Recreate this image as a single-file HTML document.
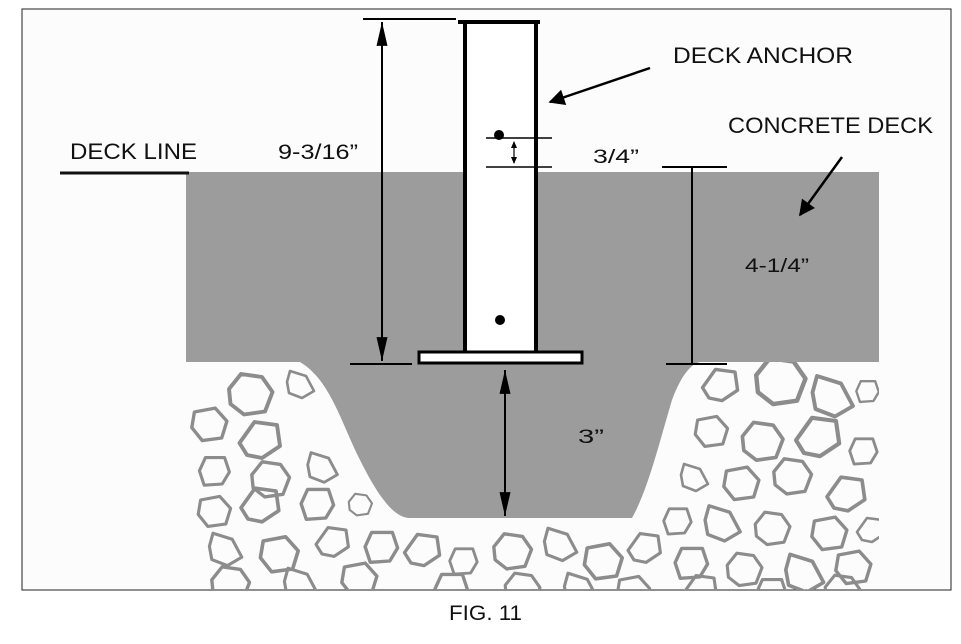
<!DOCTYPE html>
<html><head><meta charset="utf-8"><style>
html,body{margin:0;padding:0;background:#fff;width:961px;height:644px;overflow:hidden}
svg{display:block}
text{font-family:"Liberation Sans",sans-serif;fill:#111}
</style></head><body>
<svg width="961" height="644" viewBox="0 0 961 644" xmlns="http://www.w3.org/2000/svg">
<defs>
<polygon id="A" points="-14,-4 -6,-14 8,-12 15,-2 10,11 -4,13 -13,6"/>
<polygon id="B" points="-12,-10 4,-13 13,-3 9,10 -6,12 -14,2"/>
<polygon id="C" points="-10,-14 6,-9 14,6 2,13 -11,8 -13,-3"/>
<polygon id="D" points="-15,2 -5,-12 10,-10 12,4 0,12 -10,10"/>
<polygon id="E" points="-8,-12 8,-12 12,0 6,10 -9,11 -13,-1"/>
<clipPath id="g"><rect x="187" y="362" width="692" height="228"/></clipPath>
<marker id="dn" viewBox="0 0 12 26" refX="6" refY="26" markerWidth="11" markerHeight="26" markerUnits="userSpaceOnUse"><path d="M0,0 L12,0 L6,26 z" fill="#000"/></marker>
<marker id="up" viewBox="0 0 12 26" refX="6" refY="0" markerWidth="11" markerHeight="26" markerUnits="userSpaceOnUse"><path d="M0,26 L12,26 L6,0 z" fill="#000"/></marker>
<marker id="pt" viewBox="0 0 10 10" refX="9" refY="5" markerWidth="26" markerHeight="16" markerUnits="userSpaceOnUse" orient="auto"><path d="M0,0 L10,5 L0,10 z" fill="#000"/></marker>
</defs>
<rect x="22" y="9" width="929" height="581" fill="#fcfcfc" stroke="#222" stroke-width="1"/>
<rect x="186" y="172" width="693" height="190" fill="#9c9c9c"/>
<g clip-path="url(#g)" fill="none" stroke="#8c8c8c" stroke-width="2.6" stroke-linejoin="round">
<use href="#A" transform="translate(250,395) scale(1.5)"/>
<use href="#C" transform="translate(300,385) scale(1)"/>
<use href="#B" transform="translate(210,425) scale(1.3)"/>
<use href="#D" transform="translate(262,440) scale(1.5)"/>
<use href="#E" transform="translate(215,472) scale(1.2)"/>
<use href="#A" transform="translate(270,480) scale(1.3)"/>
<use href="#C" transform="translate(322,468) scale(1.1)"/>
<use href="#B" transform="translate(215,512) scale(1.2)"/>
<use href="#D" transform="translate(262,505) scale(1.4)"/>
<use href="#E" transform="translate(318,505) scale(1.3)"/>
<use href="#A" transform="translate(360,505) scale(0.8)"/>
<use href="#C" transform="translate(225,550) scale(1.2)"/>
<use href="#B" transform="translate(280,555) scale(1.4)"/>
<use href="#D" transform="translate(334,542) scale(1.2)"/>
<use href="#E" transform="translate(382,548) scale(1.3)"/>
<use href="#A" transform="translate(230,585) scale(1.3)"/>
<use href="#C" transform="translate(300,585) scale(1.2)"/>
<use href="#B" transform="translate(360,580) scale(1.3)"/>
<use href="#D" transform="translate(424,550) scale(1.3)"/>
<use href="#E" transform="translate(464,562) scale(1.1)"/>
<use href="#A" transform="translate(512,552) scale(1.3)"/>
<use href="#C" transform="translate(560,545) scale(1.2)"/>
<use href="#B" transform="translate(604,562) scale(1.4)"/>
<use href="#D" transform="translate(646,548) scale(1.2)"/>
<use href="#E" transform="translate(452,590) scale(1.3)"/>
<use href="#A" transform="translate(522,590) scale(1.2)"/>
<use href="#C" transform="translate(580,590) scale(1.2)"/>
<use href="#B" transform="translate(634,592) scale(1.2)"/>
<use href="#D" transform="translate(722,385) scale(1.3)"/>
<use href="#A" transform="translate(780,382) scale(1.7)"/>
<use href="#C" transform="translate(832,397) scale(1.5)"/>
<use href="#E" transform="translate(868,392) scale(0.9)"/>
<use href="#B" transform="translate(712,432) scale(1.2)"/>
<use href="#A" transform="translate(762,442) scale(1.4)"/>
<use href="#D" transform="translate(820,437) scale(1.6)"/>
<use href="#E" transform="translate(864,452) scale(1.1)"/>
<use href="#C" transform="translate(694,478) scale(1)"/>
<use href="#B" transform="translate(742,484) scale(1.3)"/>
<use href="#A" transform="translate(792,477) scale(1.3)"/>
<use href="#D" transform="translate(848,494) scale(1.4)"/>
<use href="#E" transform="translate(678,522) scale(1.1)"/>
<use href="#C" transform="translate(722,524) scale(1.3)"/>
<use href="#A" transform="translate(772,529) scale(1.2)"/>
<use href="#B" transform="translate(830,534) scale(1.3)"/>
<use href="#D" transform="translate(872,530) scale(1)"/>
<use href="#E" transform="translate(692,564) scale(1.3)"/>
<use href="#A" transform="translate(744,570) scale(1.2)"/>
<use href="#C" transform="translate(804,574) scale(1.4)"/>
<use href="#B" transform="translate(854,568) scale(1.3)"/>
<use href="#D" transform="translate(702,590) scale(1.2)"/>
<use href="#E" transform="translate(772,594) scale(1.2)"/>
<use href="#A" transform="translate(842,592) scale(1.2)"/>
</g>
<path d="M186,362 L300,362 C330,380 340,420 360,460 C380,500 395,518 410,518 L632,518 C648,490 660,440 672,400 C680,378 690,364 700,362 L879,362 L879,358 L186,358 Z" fill="#9c9c9c"/>
<line x1="60" y1="173" x2="189" y2="173" stroke="#111" stroke-width="3"/>
<rect x="465" y="22" width="71" height="332" fill="#fff" stroke="#000" stroke-width="4"/>
<line x1="458" y1="22" x2="540" y2="22" stroke="#000" stroke-width="4"/>
<rect x="419" y="352" width="163" height="11" fill="#fff" stroke="#000" stroke-width="3"/>
<circle cx="499" cy="135" r="5" fill="#000"/>
<circle cx="500" cy="320" r="5" fill="#000"/>
<line x1="363" y1="19" x2="456" y2="19" stroke="#000" stroke-width="2"/>
<line x1="350" y1="364" x2="412" y2="364" stroke="#000" stroke-width="2"/>
<line x1="382" y1="22" x2="382" y2="361" stroke="#000" stroke-width="2" marker-start="url(#up)" marker-end="url(#dn)"/>
<line x1="486" y1="138" x2="552" y2="138" stroke="#000" stroke-width="1.5"/>
<line x1="486" y1="167" x2="552" y2="167" stroke="#000" stroke-width="1.5"/>
<line x1="514" y1="142" x2="514" y2="163" stroke="#000" stroke-width="1.2"/>
<path d="M511,148 L514,141 L517,148 Z M511,157 L514,164 L517,157 Z" fill="#000"/>
<line x1="662" y1="167" x2="727" y2="167" stroke="#000" stroke-width="2"/>
<line x1="666" y1="364" x2="727" y2="364" stroke="#000" stroke-width="2"/>
<line x1="692" y1="167" x2="692" y2="364" stroke="#000" stroke-width="2"/>
<line x1="505" y1="370" x2="505" y2="516" stroke="#000" stroke-width="2" marker-start="url(#up)" marker-end="url(#dn)"/>
<line x1="650" y1="68" x2="550" y2="102" stroke="#000" stroke-width="2.5" marker-end="url(#pt)"/>
<line x1="842" y1="157" x2="800" y2="215" stroke="#000" stroke-width="2.5" marker-end="url(#pt)"/>
<g lengthAdjust="spacingAndGlyphs">
<text x="673" y="63" font-size="22" textLength="180" lengthAdjust="spacingAndGlyphs">DECK ANCHOR</text>
<text x="728" y="133" font-size="22" textLength="205" lengthAdjust="spacingAndGlyphs">CONCRETE DECK</text>
<text x="70" y="159" font-size="22" textLength="127" lengthAdjust="spacingAndGlyphs">DECK LINE</text>
<text x="278" y="159" font-size="21" textLength="80" lengthAdjust="spacingAndGlyphs">9-3/16”</text>
<text x="593" y="163" font-size="19" textLength="46" lengthAdjust="spacingAndGlyphs">3/4”</text>
<text x="745" y="272" font-size="19" textLength="64" lengthAdjust="spacingAndGlyphs">4-1/4”</text>
<text x="578" y="443" font-size="19" textLength="26" lengthAdjust="spacingAndGlyphs">3”</text>
<text x="449" y="620" font-size="21" textLength="73" lengthAdjust="spacingAndGlyphs">FIG. 11</text>
</g>
</svg>
</body></html>
